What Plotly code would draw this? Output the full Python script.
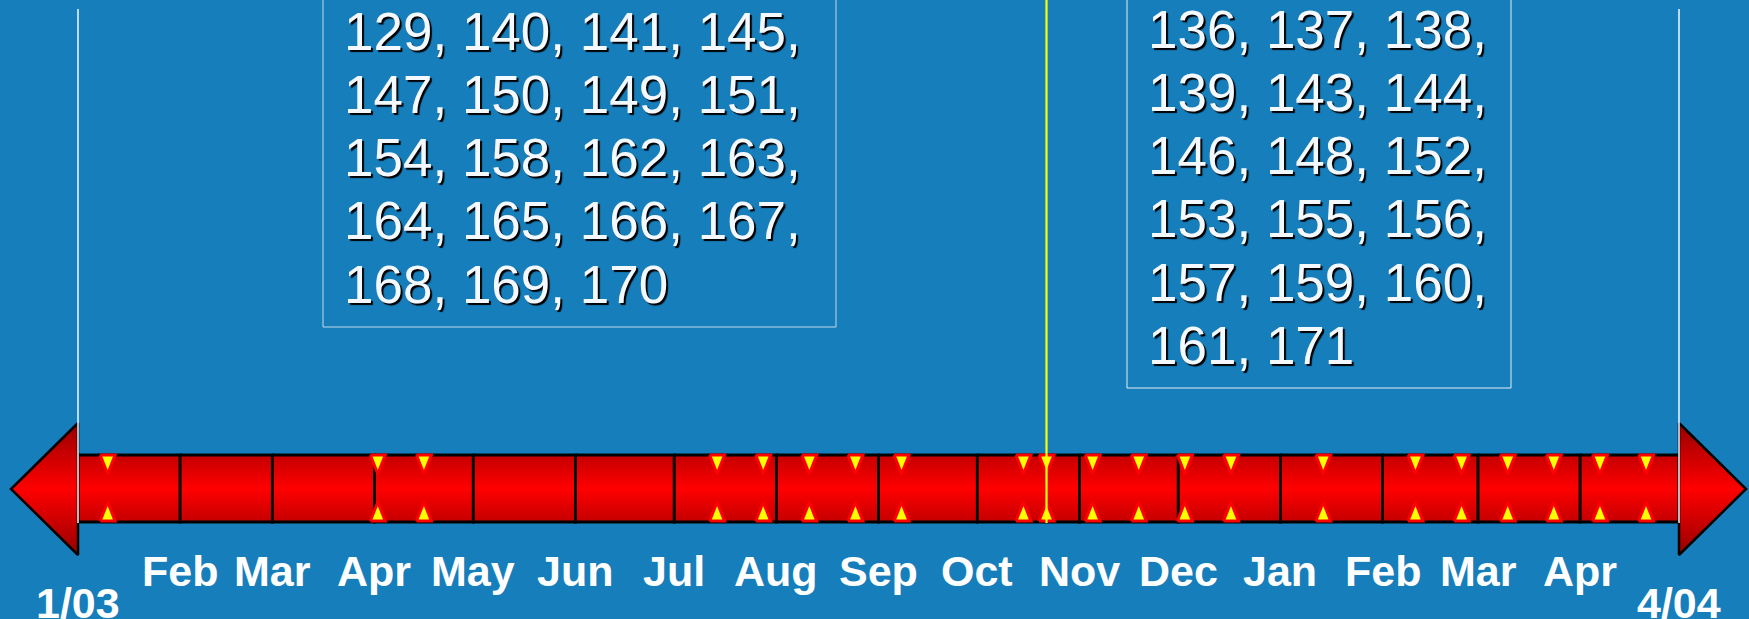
import pandas as pd
import plotly.graph_objects as go

# ---------------- data ----------------
month_starts = ["2003-01-01", "2003-02-01", "2003-03-01", "2003-04-01", "2003-05-01",
                "2003-06-01", "2003-07-01", "2003-08-01", "2003-09-01", "2003-10-01",
                "2003-11-01", "2003-12-01", "2004-01-01", "2004-02-01", "2004-03-01",
                "2004-04-01"]
timeline_end = "2004-05-01"
month_labels = ["Feb", "Mar", "Apr", "May", "Jun", "Jul", "Aug", "Sep", "Oct", "Nov",
                "Dec", "Jan", "Feb", "Mar", "Apr"]          # at month_starts[1:]
start_label = "1/03"
end_label = "4/04"
event_dates = ["2003-01-10", "2003-04-02", "2003-04-16", "2003-07-14", "2003-07-28",
               "2003-08-11", "2003-08-25", "2003-09-08", "2003-10-15", "2003-10-22",
               "2003-11-05", "2003-11-19", "2003-12-03", "2003-12-17", "2004-01-14",
               "2004-02-11", "2004-02-25", "2004-03-10", "2004-03-24", "2004-04-07",
               "2004-04-21"]
today_date = "2003-10-22"
left_ids = [129, 140, 141, 145, 147, 150, 149, 151, 154, 158, 162, 163, 164, 165, 166,
            167, 168, 169, 170]
right_ids = [136, 137, 138, 139, 143, 144, 146, 148, 152, 153, 155, 156, 157, 159, 160,
             161, 171]

# ---------------- layout constants ----------------
W, H = 1749, 619
BG = "#157EBB"
BAR_X0, BAR_X1 = 78, 1679          # px of timeline start / end
BAR_TOP, BAR_BOT = 455, 522
HEAD_TOP, HEAD_BOT, HEAD_MID = 423, 555, 489
HEAD_LEN = 67
TRI_HW, TRI_H = 7.5, 19
FONT = "Liberation Sans, Arial, sans-serif"

t0 = pd.Timestamp(month_starts[0])
t1 = pd.Timestamp(timeline_end)
ppd = (BAR_X1 - BAR_X0) / (t1 - t0).days


def days(px):
    return pd.Timedelta(days=px / ppd)


x_range = [t0 - days(BAR_X0), t1 + days(W - BAR_X1)]

fig = go.Figure()

bar_grad = dict(type="vertical",
                colorscale=[[0, "#C40000"], [0.5, "#FF0000"], [1, "#C40000"]])
head_grad = dict(type="vertical",
                 colorscale=[[0, "#960000"], [0.5, "#FF0000"], [1, "#960000"]])

# month segments
edges = [pd.Timestamp(d) for d in month_starts] + [t1]
for a, b in zip(edges[:-1], edges[1:]):
    fig.add_trace(go.Scatter(
        x=[a, b, b, a, a], y=[BAR_TOP, BAR_TOP, BAR_BOT, BAR_BOT, BAR_TOP],
        mode="lines", fill="toself", fillgradient=bar_grad,
        line=dict(color="black", width=2.8), hoverinfo="skip", showlegend=False))

# arrow heads
fig.add_trace(go.Scatter(
    x=[t0, t0 - days(HEAD_LEN), t0, t0], y=[HEAD_TOP, HEAD_MID, HEAD_BOT, HEAD_TOP],
    mode="lines", fill="toself", fillgradient=head_grad,
    line=dict(color="black", width=2.5), hoverinfo="skip", showlegend=False))
fig.add_trace(go.Scatter(
    x=[t1, t1 + days(HEAD_LEN), t1, t1], y=[HEAD_TOP, HEAD_MID, HEAD_BOT, HEAD_TOP],
    mode="lines", fill="toself", fillgradient=head_grad,
    line=dict(color="black", width=2.5), hoverinfo="skip", showlegend=False))

# event triangles
tx, ty = [], []
for d in event_dates:
    d = pd.Timestamp(d)
    tx += [d - days(TRI_HW), d + days(TRI_HW), d, d - days(TRI_HW), None]
    ty += [BAR_TOP, BAR_TOP, BAR_TOP + TRI_H, BAR_TOP, None]
    tx += [d - days(TRI_HW), d + days(TRI_HW), d, d - days(TRI_HW), None]
    ty += [BAR_BOT - 1, BAR_BOT - 1, BAR_BOT - 1 - TRI_H, BAR_BOT - 1, None]
fig.add_trace(go.Scatter(
    x=tx, y=ty, mode="lines", fill="toself", fillcolor="#FFFF00",
    line=dict(color="#FF0000", width=3), hoverinfo="skip", showlegend=False))

# white boundary lines
for d in [t0, t1]:
    fig.add_trace(go.Scatter(
        x=[d, d], y=[9, BAR_BOT + 1], mode="lines",
        line=dict(color="#F4F8FF", width=1.5), hoverinfo="skip", showlegend=False))

# yellow "today" line
td = pd.Timestamp(today_date)
fig.add_trace(go.Scatter(
    x=[td, td], y=[0, BAR_BOT + 1], mode="lines",
    line=dict(color="#FFFF00", width=2.2), hoverinfo="skip", showlegend=False))

annotations = []
lab_font = dict(family=FONT, size=43, color="white", weight="bold")
for lab, d in zip(month_labels, month_starts[1:]):
    annotations.append(dict(x=pd.Timestamp(d), y=571, xref="x", yref="y", text=lab,
                            showarrow=False, xanchor="center", yanchor="middle",
                            font=lab_font))
for lab, d in [(start_label, t0), (end_label, t1)]:
    annotations.append(dict(x=d, y=603, xref="x", yref="y", text=lab,
                            showarrow=False, xanchor="center", yanchor="middle",
                            font=lab_font))


# number boxes
def rows(ids, n):
    out = []
    for i in range(0, len(ids), n):
        chunk = ids[i:i + n]
        s = ", ".join(str(v) for v in chunk)
        if i + n < len(ids):
            s += ","
        out.append(s)
    return out


txt_font = dict(family=FONT, size=53, color="#F4F8FF", shadow="2px 2px 1px #000000")
for k, s in enumerate(rows(left_ids, 4)):
    annotations.append(dict(x=342 / W, y=31 + 63.3 * k, xref="paper", yref="y", text=s,
                            showarrow=False, xanchor="left", yanchor="middle", font=txt_font))
for k, s in enumerate(rows(right_ids, 3)):
    annotations.append(dict(x=1146 / W, y=29 + 63.3 * k, xref="paper", yref="y", text=s,
                            showarrow=False, xanchor="left", yanchor="middle", font=txt_font))

shapes = [
    dict(type="rect", xref="paper", yref="y", x0=323 / W, x1=836 / W, y0=-20, y1=327,
         line=dict(color="#C8D8E8", width=1), layer="below"),
    dict(type="rect", xref="paper", yref="y", x0=1127 / W, x1=1511 / W, y0=-20, y1=388,
         line=dict(color="#E8EEF4", width=1), layer="below"),
]

fig.update_layout(
    width=W, height=H, margin=dict(l=0, r=0, t=0, b=0),
    paper_bgcolor=BG, plot_bgcolor=BG, showlegend=False,
    xaxis=dict(type="date", range=x_range, visible=False, fixedrange=True),
    yaxis=dict(range=[H, 0], visible=False, fixedrange=True),
    annotations=annotations, shapes=shapes,
)

fig.write_html("out.html", config={"displayModeBar": False},
               post_script="document.body.style.margin='0';document.body.style.background='" + BG + "';")
